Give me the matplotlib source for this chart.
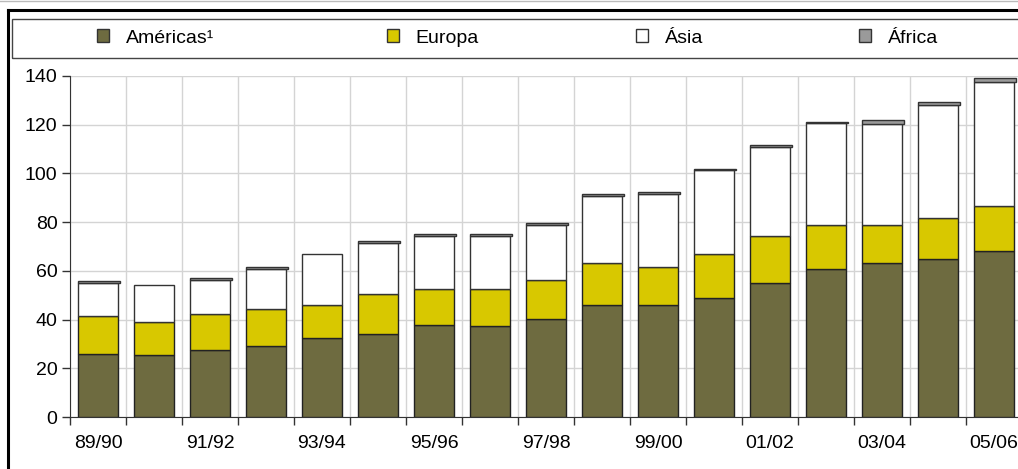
import numpy as np
import matplotlib; matplotlib.use("Agg")
import matplotlib.pyplot as plt
from matplotlib.patches import Patch, Rectangle
from matplotlib.lines import Line2D

seasons = ["89/90", "90/91", "91/92", "92/93", "93/94", "94/95", "95/96", "96/97", "97/98",
           "98/99", "99/00", "00/01", "01/02", "02/03", "03/04", "04/05", "05/06"]
americas = [26.0, 25.3, 27.5, 29.0, 32.6, 34.2, 37.8, 37.2, 40.2, 46.0, 46.0, 49.0, 55.1, 60.9, 63.3, 64.8, 68.3]
europa = [15.5, 13.9, 14.8, 15.5, 13.4, 16.2, 14.9, 15.5, 16.2, 17.3, 15.6, 17.9, 19.4, 17.9, 15.5, 17.0, 18.2]
asia = [13.7, 15.0, 14.1, 16.4, 21.1, 21.2, 21.8, 21.8, 22.4, 27.4, 29.9, 34.5, 36.3, 41.7, 41.6, 46.2, 51.1]
africa = [0.7, 0.0, 0.8, 0.7, 0.0, 0.7, 0.8, 0.8, 0.8, 0.7, 0.8, 0.6, 0.7, 0.8, 1.6, 1.4, 1.6]

C_AM, C_EU, C_AS, C_AF = "#6e6b40", "#d8c800", "#ffffff", "#9a9a9a"
EDGE = "#222222"
plt.rcParams.update({"font.family": "Liberation Sans", "font.size": 13})

fig = plt.figure(figsize=(10.18, 4.69), dpi=100)
ax = fig.add_axes([70/1018, 1-417/469, 952/1018, 341/469])

x = np.arange(len(seasons)); w = 0.73
am = np.array(americas); eu = np.array(europa); asa = np.array(asia); af = np.array(africa)
ax.bar(x, am, w, color=C_AM, edgecolor=EDGE, lw=1, zorder=3)
ax.bar(x, eu, w, bottom=am, color=C_EU, edgecolor=EDGE, lw=1, zorder=3)
ax.bar(x, asa, w, bottom=am+eu, color=C_AS, edgecolor="#333333", lw=1, zorder=3)
m = af > 0
ax.bar(x[m] - w/2, af[m], w + 0.03, bottom=(am+eu+asa)[m], align="edge",
       color=C_AF, edgecolor="#333333", lw=1, zorder=3)

ax.set_xlim(-0.5, len(seasons) - 0.5); ax.set_ylim(0, 140)
ax.set_yticks(np.arange(0, 141, 20))
ax.set_xticks(x[::2]); ax.set_xticklabels(seasons[::2], fontsize=14)
ax.set_xticks(np.arange(len(seasons)) - 0.5, minor=True)
ax.tick_params(axis="x", which="major", length=0, pad=13)
ax.tick_params(axis="x", which="minor", length=6, width=1, color="#333333")
ax.tick_params(axis="y", length=6, width=1, pad=3, labelsize=14, color="#333333")
ax.grid(axis="y", color="#d4d4d4", lw=1, zorder=0)
ax.grid(axis="x", which="minor", color="#d4d4d4", lw=1, zorder=0)
for s in ["top", "right"]: ax.spines[s].set_visible(False)
for s in ["left", "bottom"]: ax.spines[s].set_color("#333333")

# outer frame and legend box
fig.add_artist(Line2D([8/1018, 8/1018], [0, 1-10/469], color="black", lw=2.2, transform=fig.transFigure))
fig.add_artist(Line2D([8/1018, 1], [1-10/469, 1-10/469], color="black", lw=2.2, transform=fig.transFigure))
fig.add_artist(Line2D([0, 1], [1-1/469, 1-1/469], color="#bbbbbb", lw=1, transform=fig.transFigure))
fig.add_artist(Rectangle((12/1018, 1-58/469), 1.0, 39/469, fill=False, edgecolor="#444444",
                         lw=1, transform=fig.transFigure))

labels = ["Américas¹", "Europa", "Ásia", "África"]
colors = [C_AM, C_EU, C_AS, C_AF]
xpos = [97, 387, 636, 859]
for lab, c, px in zip(labels, colors, xpos):
    fig.legend(handles=[Patch(facecolor=c, edgecolor="#333333", lw=1, label=lab)],
               loc="center left", bbox_to_anchor=(px/1018, 1-38/469), frameon=False,
               borderpad=0, borderaxespad=0, handlelength=0.62, handleheight=0.6,
               handletextpad=0.85, prop={"size": 14})

fig.savefig("out.png", dpi=100)
